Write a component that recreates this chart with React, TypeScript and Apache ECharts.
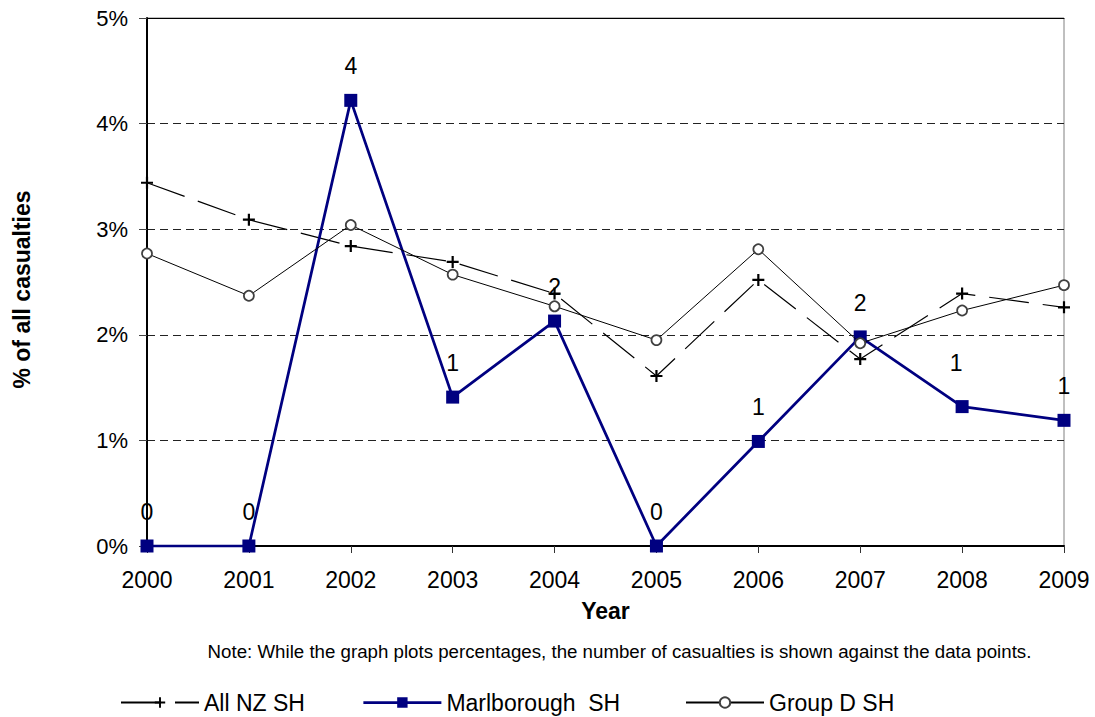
import React, { useEffect, useRef } from "react";
import * as echarts from "echarts";

const years = ["2000", "2001", "2002", "2003", "2004", "2005", "2006", "2007", "2008", "2009"];
const allNZ = [3.44, 3.09, 2.84, 2.69, 2.39, 1.61, 2.52, 1.77, 2.39, 2.26];
const marlborough = [0, 0, 4.22, 1.41, 2.13, 0, 0.99, 1.98, 1.32, 1.19];
const groupD = [2.77, 2.37, 3.04, 2.57, 2.27, 1.95, 2.81, 1.92, 2.23, 2.47];
const marlboroughCounts = [0, 0, 4, 1, 2, 0, 1, 2, 1, 1];
const yTicks = [0, 1, 2, 3, 4, 5];
const seriesNames = ["All NZ SH", "Marlborough  SH", "Group D SH"];
const yTitle = "% of all casualties";
const xTitle = "Year";
const note = "Note: While the graph plots percentages, the number of casualties is shown against the data points.";

const FONT = "'Liberation Sans', Arial, sans-serif";
const PLUS = "path://M4.9,0H7.1V4.9H12V7.1H7.1V12H4.9V7.1H0V4.9H4.9Z";

export default function App() {
  const ref = useRef<HTMLDivElement>(null);
  useEffect(() => {
    if (!ref.current) return;
    const chart = echarts.init(ref.current, undefined, { renderer: "svg" });
    const labelData = marlborough.map((v, i) => ({
      value: v,
      label: {
        show: true,
        formatter: String(marlboroughCounts[i]),
        position: "inside" as const,
        offset: i === 8 ? [-6, -44] : [0, -34],
        color: "#000",
        fontSize: 23,
        fontFamily: FONT,
      },
    }));
    const legendBase = {
      top: 686,
      itemWidth: 78,
      itemHeight: 13,
      textStyle: { fontSize: 23, fontFamily: FONT, color: "#000" },
    };
    chart.setOption({
      animation: false,
      backgroundColor: "#fff",
      textStyle: { fontFamily: FONT, color: "#000" },
      grid: {
        left: 147,
        right: 31,
        top: 18,
        bottom: 171,
        show: true,
        borderColor: "#808080",
        borderWidth: 1,
        backgroundColor: "transparent",
      },
      legend: [
        { ...legendBase, left: 115, data: [seriesNames[0]] },
        { ...legendBase, left: 357, data: [seriesNames[1]], lineStyle: { width: 2.75 } },
        { ...legendBase, left: 680, data: [seriesNames[2]] },
      ],
      graphic: [
        {
          type: "text",
          x: 619.5,
          y: 651,
          style: {
            text: note,
            fontSize: 18.7,
            fontFamily: FONT,
            fill: "#000",
            textAlign: "center",
            textVerticalAlign: "middle",
          },
        },
      ],
      xAxis: [
        {
          type: "category",
          data: years,
          boundaryGap: false,
          name: xTitle,
          nameLocation: "middle",
          nameGap: 53,
          nameTextStyle: { fontSize: 23, fontWeight: "bold", fontFamily: FONT, color: "#000" },
          axisLine: { lineStyle: { color: "#000", width: 2 } },
          axisTick: { show: true, length: 7, alignWithLabel: true, lineStyle: { color: "#333" } },
          axisLabel: { fontSize: 23, color: "#000", margin: 22, fontFamily: FONT },
          splitLine: { show: false },
        },
        {
          type: "category",
          data: years,
          boundaryGap: false,
          position: "top",
          axisLine: { show: true, lineStyle: { color: "#000", width: 1 } },
          axisTick: { show: false },
          axisLabel: { show: false },
          splitLine: { show: false },
        },
      ],
      yAxis: {
        type: "value",
        min: yTicks[0],
        max: yTicks[yTicks.length - 1],
        interval: 1,
        name: yTitle,
        nameLocation: "middle",
        nameGap: 114,
        nameRotate: 90,
        nameTextStyle: {
          fontSize: 23,
          fontWeight: "bold",
          fontFamily: FONT,
          color: "#000",
          padding: [0, 15, 0, 0],
        },
        axisLine: { show: true, lineStyle: { color: "#000", width: 2 } },
        axisTick: { show: true, length: 8, lineStyle: { color: "#444" } },
        axisLabel: { fontSize: 22, color: "#000", margin: 19, formatter: "{value}%", fontFamily: FONT },
        splitLine: { show: true, lineStyle: { color: "#222", type: [8, 5], width: 1 } },
      },
      series: [
        {
          name: seriesNames[0],
          type: "line",
          data: allNZ,
          symbol: PLUS,
          symbolSize: 12,
          itemStyle: { color: "#000" },
          lineStyle: { color: "#000", width: 1.2, type: [40, 14] },
          z: 2,
        },
        {
          name: seriesNames[1],
          type: "line",
          data: labelData,
          symbol: "rect",
          symbolSize: 13,
          itemStyle: { color: "#000080" },
          lineStyle: { color: "#000080", width: 2.75 },
          z: 3,
        },
        {
          name: seriesNames[2],
          type: "line",
          data: groupD,
          symbol: "circle",
          symbolSize: 10,
          itemStyle: { color: "#fff", borderColor: "#404040", borderWidth: 1.75 },
          lineStyle: { color: "#000", width: 1 },
          z: 4,
        },
      ],
    });
    return () => chart.dispose();
  }, []);
  return (
    <div
      ref={ref}
      style={{ position: "absolute", left: 0, top: 0, width: 1095, height: 717 }}
    />
  );
}
